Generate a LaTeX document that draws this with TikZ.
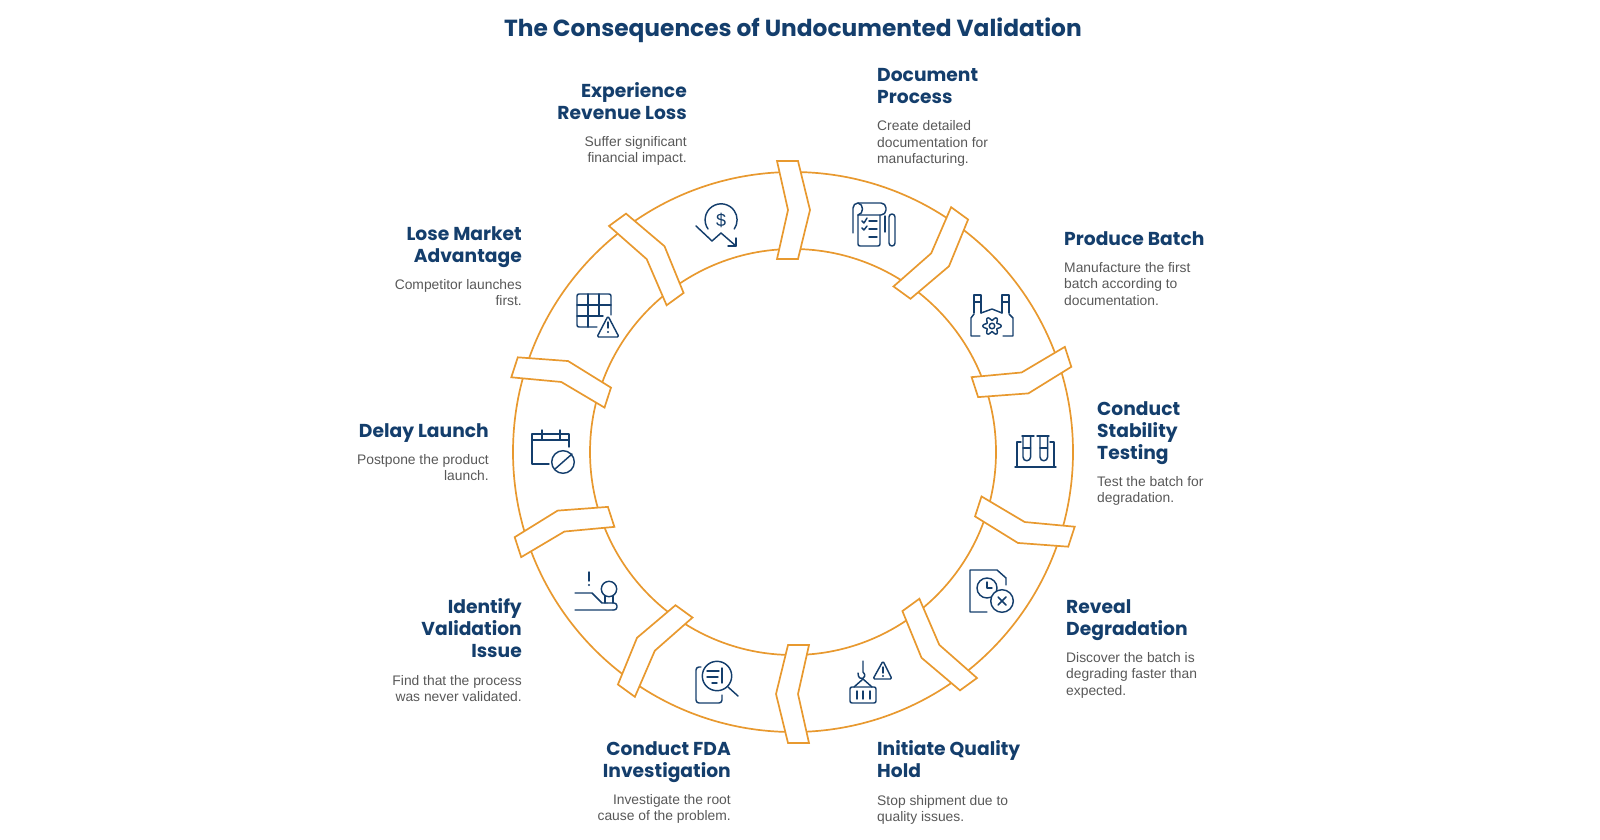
\documentclass[tikz,border=0pt]{standalone}
\usepackage{xcolor}
\usepackage{fontspec}
\usepackage{tikz}
\usetikzlibrary{positioning}
\setmainfont{Liberation Sans}
\newfontfamily\headfont{Poppins}
\definecolor{myorange}{RGB}{232,153,47}
\definecolor{mynavy}{RGB}{20,62,108}
\definecolor{mygray}{RGB}{88,88,88}
\tikzset{
  ringline/.style={draw=myorange, line width=1.7pt},
  chevron/.style={draw=myorange, fill=white, line width=1.7pt, line join=miter},
  iconline/.style={draw=mynavy, line width=1.45pt, line cap=round, line join=round},
  icondot/.style={fill=mynavy, draw=none},
  titlenode/.style={font=\headfont\bfseries\fontsize{23.3}{27}\selectfont, text=mynavy, inner sep=0pt},
  headr/.style={font=\headfont\bfseries\fontsize{18.7}{22}\selectfont, text=mynavy, align=right, inner sep=0pt, execute at end node={\vphantom{y}}},
  headl/.style={font=\headfont\bfseries\fontsize{18.7}{22}\selectfont, text=mynavy, align=left, inner sep=0pt, execute at end node={\vphantom{y}}},
  descr/.style={font=\fontsize{13.85}{16.3}\selectfont, text=mygray, align=right, inner sep=0pt, anchor=north east},
  descl/.style={font=\fontsize{13.85}{16.3}\selectfont, text=mygray, align=left, inner sep=0pt, anchor=north west}
}
\begin{document}
\begin{tikzpicture}[x=1pt, y=-1pt]
  \useasboundingbox (0,0) rectangle (1600,840);
  \node[titlenode] (title) at (793,30) {The Consequences of Undocumented Validation};

  % ring
  \coordinate (ringc) at (793,452);
  \draw[ringline] (ringc) circle[radius=280];
  \draw[ringline] (ringc) circle[radius=203];
  \foreach \a in {0,36,...,324} {
    \begin{scope}[shift={(ringc)}, rotate=-\a]
      \draw[chevron] (-16,-291) -- (5,-291) -- (17,-242) -- (5,-193) -- (-16,-193) -- (-5,-242) -- cycle;
    \end{scope}
  }

  % labels
  \node[headr, anchor=north east] (lossHead) at (687,82) {Experience\\Revenue Loss};
  \node[below=12pt of lossHead.south east, descr] (lossDesc) {Suffer significant\\financial impact.};
  \node[headl, anchor=north west] (docHead) at (877,68) {Document\\Process};
  \node[below=12pt of docHead.south west, descl] (docDesc) {Create detailed\\documentation for\\manufacturing.};
  \node[headl, anchor=north west] (batchHead) at (1064,231) {Produce Batch};
  \node[below=12pt of batchHead.south west, descl] (batchDesc) {Manufacture the first\\batch according to\\documentation.};
  \node[headl, anchor=north west] (testHead) at (1097,401) {Conduct\\Stability\\Testing};
  \node[below=12pt of testHead.south west, descl] (testDesc) {Test the batch for\\degradation.};
  \node[headl, anchor=north west] (degHead) at (1066,599) {Reveal\\Degradation};
  \node[below=12pt of degHead.south west, descl] (degDesc) {Discover the batch is\\degrading faster than\\expected.};
  \node[headl, anchor=north west] (holdHead) at (877,740.5) {Initiate Quality\\Hold};
  \node[below=12pt of holdHead.south west, descl] (holdDesc) {Stop shipment due to\\quality issues.};
  \node[headr, anchor=north east] (fdaHead) at (731,741) {Conduct FDA\\Investigation};
  \node[below=12pt of fdaHead.south east, descr] (fdaDesc) {Investigate the root\\cause of the problem.};
  \node[headr, anchor=north east] (issueHead) at (522,598.5) {Identify\\Validation\\Issue};
  \node[below=12pt of issueHead.south east, descr] (issueDesc) {Find that the process\\was never validated.};
  \node[headr, anchor=north east] (delayHead) at (489,423) {Delay Launch};
  \node[below=12pt of delayHead.south east, descr] (delayDesc) {Postpone the product\\launch.};
  \node[headr, anchor=north east] (marketHead) at (522,226) {Lose Market\\Advantage};
  \node[below=12pt of marketHead.south east, descr] (marketDesc) {Competitor launches\\first.};

  % icon: revenue loss
  \draw[iconline] (708,229) arc[start angle=145, end angle=395, radius=16];
  \node[font=\fontsize{18}{18}\selectfont, text=mynavy, inner sep=0pt] (dollar) at (721,220) {\$};
  \draw[iconline] (696,226) -- (712,241) -- (721,233) -- (736,246);
  \draw[iconline] (736,238) -- (736,246) -- (728,246);

  % icon: document
  \draw[iconline, rounded corners=5] (853,233) -- (853,203) -- (886,203) -- (886,215) -- (858,215);
  \draw[iconline] (858,203) .. controls (864,204) and (864,214) .. (858,215);
  \draw[iconline, rounded corners=2] (858,215) -- (858,246) -- (880,246) -- (880,215);
  \draw[iconline] (885,216) -- (885,232);
  \draw[iconline, rounded corners=3] (889,214) rectangle (895,246);
  \draw[iconline] (862,221) -- (864,223) -- (867,218);
  \draw[iconline] (862,228) -- (864,230) -- (867,226);
  \draw[iconline] (869,221) -- (877,221) (869,229) -- (877,229) (869,237) -- (877,237);

  % icon: factory
  \draw[iconline] (974,313) -- (974,295) -- (981,295) -- (981,313) (974,302) -- (981,302);
  \draw[iconline] (1002,313) -- (1002,295) -- (1009,295) -- (1009,313) (1002,302) -- (1009,302);
  \draw[iconline] (981,313) -- (992,309) -- (1002,313);
  \draw[iconline] (980,336) -- (971,336) -- (971,318) -- (974,314);
  \draw[iconline] (1003,336) -- (1013,336) -- (1013,318) -- (1009,314);
  \draw[iconline, shift={(992,326)}] plot[domain=0:360, samples=61] (\x:{7.4+1.8*cos(6*\x)}) -- cycle;
  \draw[iconline] (992,326) circle[radius=2.8];

  % icon: test tubes
  \draw[iconline] (1015,467) -- (1056,467);
  \draw[iconline] (1021,442) -- (1017,442) -- (1017,467) (1050,442) -- (1054,442) -- (1054,467);
  \draw[iconline] (1022,436) -- (1034,436) (1037,436) -- (1049,436);
  \draw[iconline] (1023,436) -- (1023,457) arc[start angle=180, end angle=0, radius=3.8] -- (1030.6,436);
  \draw[iconline] (1040,436) -- (1040,457) arc[start angle=180, end angle=0, radius=3.8] -- (1047.6,436);
  \draw[iconline] (1023,448) -- (1030.6,448) (1040,448) -- (1047.6,448);

  % icon: document with clock
  \draw[iconline] (987,612) -- (970,612) -- (970,570) -- (997,570) -- (1006,578) -- (1006,585);
  \draw[iconline] (987,588) circle[radius=10];
  \draw[iconline] (987,582) -- (987,588) -- (992,588);
  \draw[iconline, fill=white] (1002,601) circle[radius=11.3];
  \draw[iconline] (998,597) -- (1006,605) (1006,597) -- (998,605);

  % icon: hook and warning
  \draw[iconline] (863,661) -- (863,672) .. controls (869,678) and (858,683) .. (858,673);
  \draw[iconline] (854,687) -- (863,679) -- (872,687);
  \draw[iconline, rounded corners=2] (850,687) rectangle (876,703);
  \draw[iconline] (857,691) -- (857,699) (863,691) -- (863,699) (870,691) -- (870,699);
  \draw[iconline, rounded corners=1.5] (883,661) -- (892,679) -- (873,679) -- cycle;
  \draw[iconline] (883,667) -- (883,673);
  \fill[icondot] (883,676) circle[radius=1.1];

  % icon: investigation
  \draw[iconline] (717,676) circle[radius=14.7];
  \draw[iconline] (728,687) -- (738,696);
  \draw[iconline, rounded corners=3] (701,667) -- (696,667) -- (696,703) -- (722,703) -- (722,695);
  \draw[iconline] (707,671) -- (719,671) (707,677) -- (718,677) (712,683) -- (717,683);
  \draw[iconline] (722,668) -- (722,683);

  % icon: stamp
  \draw[iconline] (589,572) -- (589,581);
  \fill[icondot] (589,585) circle[radius=1.1];
  \draw[iconline] (575,593) -- (592,593) -- (602,603) -- (607,603) (575,610) -- (613,610);
  \draw[iconline] (609,589) circle[radius=7.7];
  \draw[iconline] (605,596) -- (605,603) (613,596) -- (613,603);
  \draw[iconline, rounded corners=3] (607,603) -- (617,603) -- (617,610) -- (613,610);

  % icon: calendar
  \draw[iconline] (549,464) -- (532,464) -- (532,434) -- (569,434) -- (569,447);
  \draw[iconline] (532,440) -- (569,440);
  \draw[iconline] (542,430) -- (542,440) (560,430) -- (560,440);
  \draw[iconline] (563,462) circle[radius=11.3];
  \draw[iconline] (555,469) -- (572,454);

  % icon: grid and warning
  \draw[iconline, rounded corners=2] (597,327) -- (577,327) -- (577,294) -- (611,294) -- (611,315);
  \draw[iconline] (588,294) -- (588,327) (599,294) -- (599,316);
  \draw[iconline] (577,305) -- (611,305) (577,316) -- (603,316);
  \draw[iconline, rounded corners=1.5] (608,316) -- (619,337) -- (597,337) -- cycle;
  \draw[iconline] (608,322) -- (608,328);
  \fill[icondot] (608,332) circle[radius=1.1];
\end{tikzpicture}
\end{document}
